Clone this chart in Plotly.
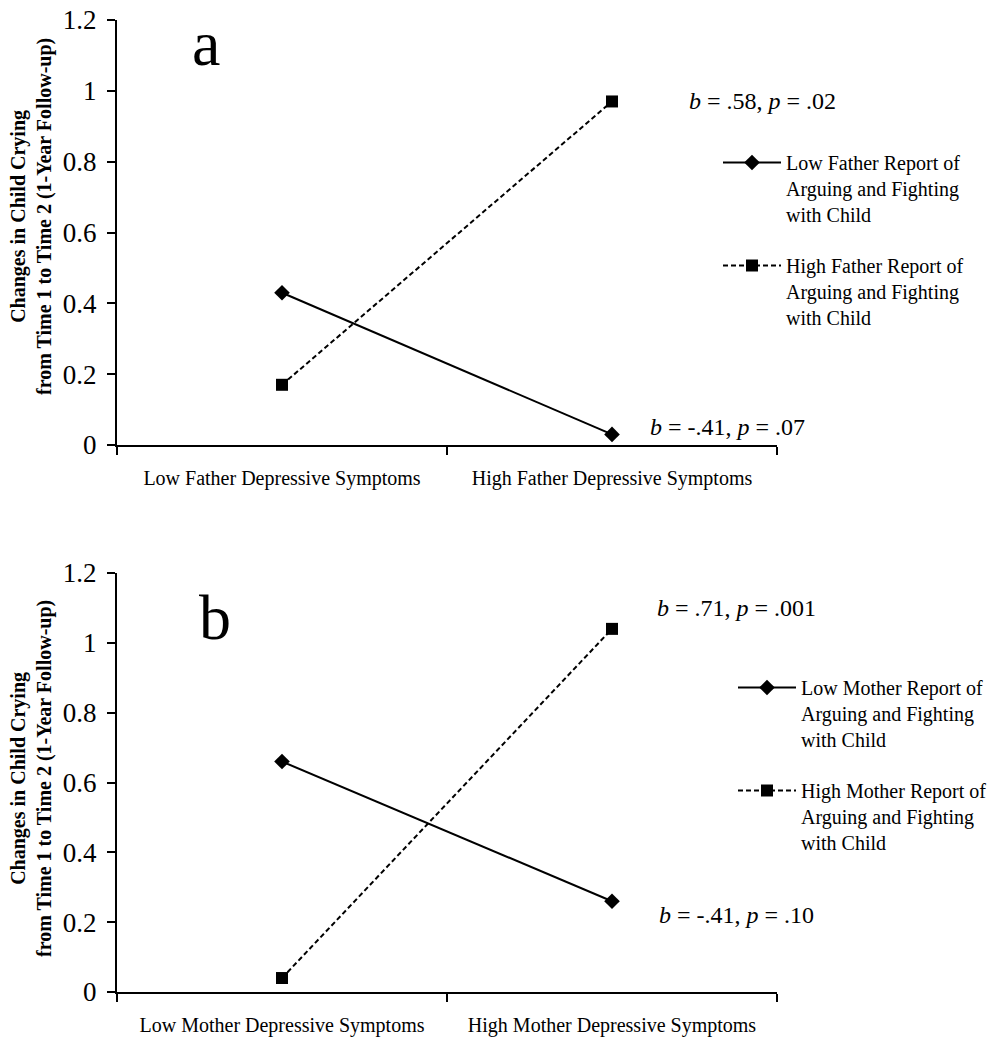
import plotly.graph_objects as go
from plotly.subplots import make_subplots

# values
father_cats = ['Low Father Depressive Symptoms', 'High Father Depressive Symptoms']
mother_cats = ['Low Mother Depressive Symptoms', 'High Mother Depressive Symptoms']
father_low_arguing = [0.43, 0.03]
father_high_arguing = [0.17, 0.97]
mother_low_arguing = [0.66, 0.26]
mother_high_arguing = [0.04, 1.04]
y_ticks = [0, 0.2, 0.4, 0.6, 0.8, 1.0, 1.2]
y_title = 'Changes in Child Crying<br>from Time 1 to Time 2 (1-Year Follow-up)'

# page body adds an 8px margin, so the figure is a bit smaller than the window
OFF = 8
W, H = 997 - OFF, 1050 - OFF
FONT = 'Liberation Serif'


def px(x):
    # window pixel -> paper fraction
    return (x - OFF) / W


def py(y):
    return 1 - (y - OFF) / H


fig = make_subplots(rows=2, cols=1)

fig.add_trace(go.Scatter(
    x=father_cats, y=father_low_arguing, mode='lines+markers',
    name='Low Father Report of<br>Arguing and Fighting<br>with Child',
    line=dict(color='black', width=2),
    marker=dict(symbol='diamond', size=12, color='black'),
    legendgroup='f1', legend='legend'), row=1, col=1)
fig.add_trace(go.Scatter(
    x=father_cats, y=father_high_arguing, mode='lines+markers',
    name='High Father Report of<br>Arguing and Fighting<br>with Child',
    line=dict(color='black', width=2, dash='5px,3px'),
    marker=dict(symbol='square', size=12, color='black'),
    legendgroup='f2', legend='legend'), row=1, col=1)
fig.add_trace(go.Scatter(
    x=mother_cats, y=mother_low_arguing, mode='lines+markers',
    name='Low Mother Report of<br>Arguing and Fighting<br>with Child',
    line=dict(color='black', width=2),
    marker=dict(symbol='diamond', size=12, color='black'),
    legendgroup='m1', legend='legend2'), row=2, col=1)
fig.add_trace(go.Scatter(
    x=mother_cats, y=mother_high_arguing, mode='lines+markers',
    name='High Mother Report of<br>Arguing and Fighting<br>with Child',
    line=dict(color='black', width=2, dash='5px,3px'),
    marker=dict(symbol='square', size=12, color='black'),
    legendgroup='m2', legend='legend2'), row=2, col=1)

xaxis_style = dict(
    type='category', range=[-0.5, 1.5], showline=True, linecolor='black', linewidth=2,
    ticks='outside', tickson='boundaries', ticklen=8, tickwidth=2, tickcolor='black',
    showgrid=False, zeroline=False, ticklabelstandoff=14, automargin=False,
    tickfont=dict(family=FONT, size=20, color='black'), domain=[px(117), px(777)])
yaxis_style = dict(
    range=[0, 1.2], tickvals=y_ticks, showline=True, linecolor='black', linewidth=2,
    ticks='outside', ticklen=8, tickwidth=2, tickcolor='black',
    showgrid=False, zeroline=False, ticklabelstandoff=5, automargin=False,
    ticklabeloverflow='allow',
    tickfont=dict(family=FONT, size=27, color='black'))

fig.update_xaxes(**xaxis_style)
fig.update_yaxes(**yaxis_style)
fig.update_yaxes(domain=[py(445), py(20)], row=1, col=1)
fig.update_yaxes(domain=[py(992), py(573)], row=2, col=1)

legend_style = dict(
    font=dict(family=FONT, size=20, color='black'), bgcolor='rgba(0,0,0,0)',
    xanchor='left', yanchor='top', tracegroupgap=22, itemwidth=58,
    traceorder='grouped', valign='top')

notes = [
    ('a', 206, 44, 64, 'center'),
    ('b', 215, 617, 64, 'center'),
    ('<i>b</i> = .58, <i>p</i> = .02', 687, 101, 24, 'left'),
    ('<i>b</i> = -.41, <i>p</i> = .07', 648, 427, 24, 'left'),
    ('<i>b</i> = .71, <i>p</i> = .001', 655, 608, 24, 'left'),
    ('<i>b</i> = -.41, <i>p</i> = .10', 657, 915, 24, 'left'),
]
annotations = []
for text, x, y, size, anchor in notes:
    annotations.append(dict(
        text=text, x=px(x), y=py(y), xref='paper', yref='paper', showarrow=False,
        xanchor=anchor, yanchor='middle', font=dict(family=FONT, size=size, color='black')))
for yc in (217, 779):
    annotations.append(dict(
        text='<b>' + y_title + '</b>', x=px(31), y=py(yc), xref='paper', yref='paper',
        showarrow=False, textangle=-90, xanchor='center', yanchor='middle',
        font=dict(family=FONT, size=20, color='black')))

fig.update_layout(
    width=W, height=H, margin=dict(l=0, r=0, t=0, b=0, autoexpand=False),
    plot_bgcolor='white', paper_bgcolor='white',
    showlegend=True,
    legend=dict(x=px(718), y=py(143), **legend_style),
    legend2=dict(x=px(733), y=py(668), **legend_style),
    annotations=annotations,
)

fig.write_html('out.html')
